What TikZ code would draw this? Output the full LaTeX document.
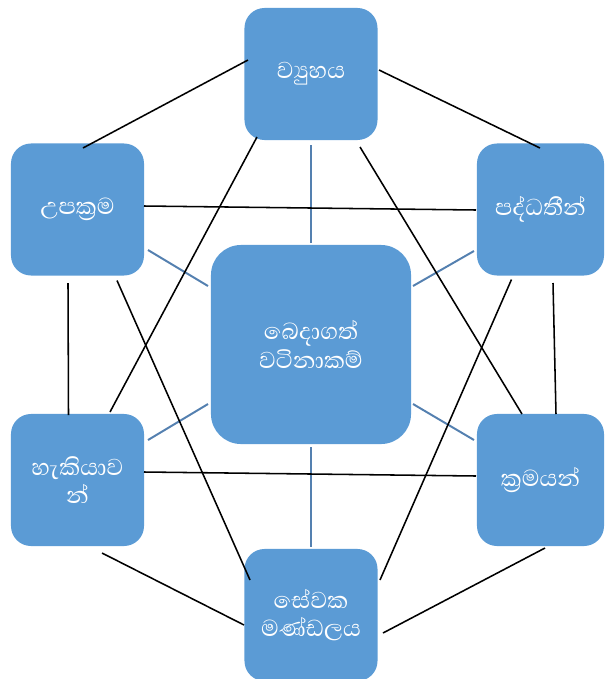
\documentclass[tikz,border=0pt]{standalone}
\usepackage{fontspec}
\newfontfamily\sinhfont[Script=Sinhala]{Abhaya Libre}
\usetikzlibrary{calc}
\definecolor{boxblue}{RGB}{91,155,213}
\definecolor{spoke}{RGB}{84,128,176}
\tikzset{every picture/.style = {x=0.025cm, y=-0.025cm}}
\tikzset{box/.style = {fill=boxblue, text=white, rounded corners=0.5cm, minimum width=3.325cm, minimum height=3.3cm, inner sep=2pt, align=center, font=\sinhfont\fontsize{21}{20.5}\selectfont}}
\tikzset{hub/.style = {box, rounded corners=0.75cm, minimum width=5cm, minimum height=4.975cm}}
\tikzset{rim/.style = {black, line width=1.1pt}}
\tikzset{spk/.style = {spoke, line width=1.4pt}}

\begin{document}
\begin{tikzpicture}
  \useasboundingbox (0, 0) rectangle (606, 679);
  % boxes
  \node[hub] (shv) at (311, 344.5) {බෙදාගත්\\වටිනාකම්};
  \node[box] (strc) at (311, 74) {ව්‍යුහය};
  \node[box] (strat) at (77.5, 209.5) {උපක්‍රම};
  \node[box, minimum width=3.175cm] (syst) at (540.5, 209.5) {පද්ධතීන්};
  \node[box] (skil) at (77.5, 480) {හැකියාව\\න්};
  \node[box, minimum width=3.175cm] (styl) at (540.5, 480) {ක්‍රමයන්};
  \node[box] (staf) at (311, 615) {සේවක\\මණ්ඩලය};
  % spokes to the hub
  \draw[spk] ($(shv)+(0, -101.5)$) -- ($(strc)+(0, 71)$);
  \draw[spk] ($(shv)+(0, 102.5)$) -- ($(staf)+(0, -68)$);
  \draw[spk] ($(shv)+(-103, -58.5)$) -- ($(strat)+(70.5, 40.5)$);
  \draw[spk] ($(shv)+(102, -58.5)$) -- ($(syst)+(-66.5, 41.5)$);
  \draw[spk] ($(shv)+(-103, 59.5)$) -- ($(skil)+(70.5, -40)$);
  \draw[spk] ($(shv)+(102, 59.5)$) -- ($(styl)+(-66.5, -40)$);
  % outer ring
  \draw[rim] ($(strc)+(-63, -14)$) -- ($(strat)+(5.5, -61.5)$);
  \draw[rim] ($(strc)+(68, -4)$) -- ($(syst)+(-0.5, -61.5)$);
  \draw[rim] ($(strc)+(-54, 63)$) -- ($(skil)+(32.5, -68)$);
  \draw[rim] ($(strc)+(49, 73)$) -- ($(styl)+(-18.5, -66)$);
  \draw[rim] ($(strat)+(66.5, -3.5)$) -- ($(syst)+(-64.5, 0.5)$);
  \draw[rim] ($(strat)+(-9.5, 73.5)$) -- ($(skil)+(-9, -65)$);
  \draw[rim] ($(strat)+(39.5, 71)$) -- ($(staf)+(-61, -35)$);
  \draw[rim] ($(syst)+(-29, 70)$) -- ($(staf)+(69, -35)$);
  \draw[rim] ($(syst)+(12.5, 73.5)$) -- ($(styl)+(15.5, -66)$);
  \draw[rim] ($(skil)+(66.5, -8)$) -- ($(styl)+(-64.5, -4)$);
  \draw[rim] ($(skil)+(24.5, 73)$) -- ($(staf)+(-67, 10)$);
  \draw[rim] ($(styl)+(4.5, 68)$) -- ($(staf)+(72, 18)$);
\end{tikzpicture}
\end{document}
